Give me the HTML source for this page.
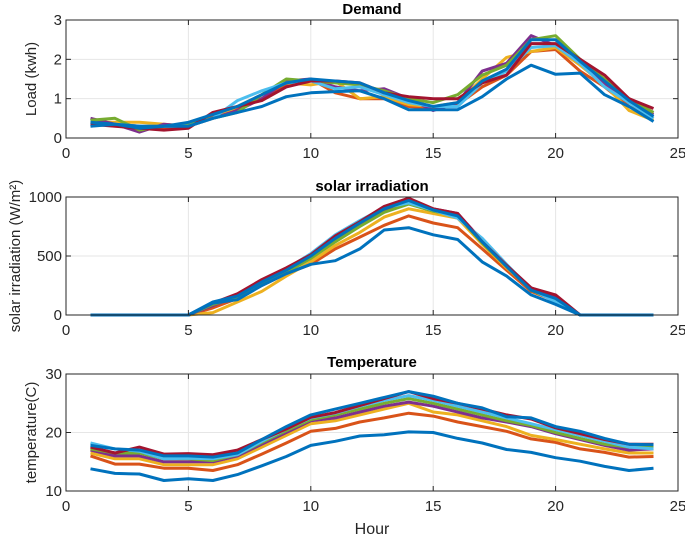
<!DOCTYPE html>
<html><head><meta charset="utf-8"><style>
body{margin:0;background:#fff;}
svg{display:block;font-family:"Liberation Sans",sans-serif;}
</style></head><body>
<svg id="c" width="685" height="536"></svg>
<script>
const hours=[1,2,3,4,5,6,7,8,9,10,11,12,13,14,15,16,17,18,19,20,21,22,23,24];
const xTicks=[0,5,10,15,20,25];
const colors=["#D95319","#EDB120","#7E2F8E","#77AC30","#4DBEEE","#A2142F","#0072BD"];
const demand=[
[.4,.35,.3,.25,.3,.55,.75,1.0,1.35,1.5,1.15,1.0,1.0,.8,.75,.85,1.3,1.6,2.2,2.25,1.7,1.3,.8,.5],
[.4,.4,.4,.35,.3,.5,.8,1.1,1.4,1.35,1.45,1.0,1.05,.85,.8,.9,1.5,2.05,2.2,2.3,1.85,1.35,.7,.45],
[.5,.35,.15,.35,.3,.5,.7,1.0,1.45,1.5,1.3,1.2,1.25,1.0,.7,.9,1.7,1.9,2.6,2.35,1.9,1.4,.9,.6],
[.45,.5,.2,.3,.35,.5,.65,1.1,1.5,1.45,1.4,1.35,1.2,1.0,.9,1.1,1.6,1.85,2.5,2.6,2.0,1.5,1.0,.65],
[.35,.35,.3,.3,.3,.5,.95,1.2,1.4,1.45,1.25,1.3,1.1,.9,.8,.8,1.4,1.7,2.3,2.35,1.9,1.3,.9,.5],
[.35,.3,.25,.2,.25,.65,.8,.95,1.3,1.45,1.45,1.4,1.15,1.05,1.0,1.0,1.4,1.6,2.4,2.4,2.0,1.6,1.0,.75],
[.3,.35,.25,.3,.3,.5,.65,.8,1.05,1.15,1.18,1.2,1.0,.72,.72,.72,1.05,1.5,1.85,1.62,1.65,1.1,.8,.42]];
const demandBlue2=[.4,.35,.3,.3,.4,.6,.8,1.1,1.4,1.5,1.45,1.4,1.15,.95,.8,.9,1.45,1.75,2.5,2.5,1.95,1.45,.95,.55];
const solar=[
[0,0,0,0,0,60,140,250,350,430,560,660,760,840,780,740,560,380,200,120,0,0,0,0],
[0,0,0,0,0,20,110,200,330,450,590,700,830,900,860,820,600,400,220,130,0,0,0,0],
[0,0,0,0,0,80,160,280,370,490,640,760,880,960,900,860,630,420,230,150,0,0,0,0],
[0,0,0,0,0,90,150,270,360,480,620,750,870,940,880,840,610,410,210,120,0,0,0,0],
[0,0,0,0,0,100,170,290,390,520,680,800,910,950,890,820,650,430,220,110,0,0,0,0],
[0,0,0,0,0,100,180,300,400,510,670,790,920,990,900,860,620,420,230,170,0,0,0,0],
[0,0,0,0,0,100,130,250,350,430,460,560,720,740,680,640,450,330,170,90,0,0,0,0]];
const solarBlue2=[0,0,0,0,0,110,160,280,380,500,650,780,900,970,890,840,620,410,210,140,0,0,0,0];
const temp=[
[16,14.6,14.6,13.9,13.9,13.5,14.5,16.3,18.2,20.2,20.7,21.8,22.5,23.3,22.8,21.8,21,20.2,18.9,18.3,17.2,16.6,15.8,15.9],
[16.5,15.5,15.5,14.5,14.5,14.5,15.5,17.5,19.5,21.5,22,23,24,25,23.5,23,22,21,19.5,18.8,18,17.2,16.5,16.5],
[17,16,16,15,15,15,16,18,20,22,22.5,23.5,24.5,25.2,24.5,23.5,22.5,21.8,21,19.8,18.8,17.8,17,17.2],
[17.2,16.5,16.5,15.5,15.5,15.2,16.2,18.3,20.3,22.2,23,24,25,25.8,25,24,23,22,21.2,20,19,18,17.5,17.5],
[18.2,17.2,16.8,15.5,15.6,15.5,16.2,18.5,20.6,22.5,23.3,24.5,25.5,26.3,25.5,24.5,23.5,22.5,21.5,20.5,19.5,18.5,17.5,17.2],
[17.5,16.5,17.5,16.3,16.4,16.2,17,18.8,20.6,22.6,23.4,24.6,25.8,27,25.8,25,24,23,22.3,20.8,19.8,18.8,18,18],
[13.8,13,12.9,11.8,12.1,11.8,12.8,14.3,15.9,17.8,18.5,19.4,19.6,20.1,20,19,18.2,17.1,16.6,15.7,15.1,14.2,13.5,13.9]];
const tempBlue2=[17.8,17.2,17,16,16,15.8,16.5,18.8,21,23,24,25,26,27,26.2,25,24.2,22.7,22.5,21,20.2,19,18,17.9];
const panels=[
 {title:"Demand",ylabel:"Load (kwh)",data:demand,extra:demandBlue2,ymin:0,ymax:3,yTicks:[0,1,2,3],top:20,bot:138,ty:14},
 {title:"solar irradiation",ylabel:"solar irradiation (W/m²)",data:solar,extra:solarBlue2,ymin:0,ymax:1000,yTicks:[0,500,1000],top:197,bot:315,ty:191},
 {title:"Temperature",ylabel:"temperature(C)",data:temp,extra:tempBlue2,ymin:10,ymax:30,yTicks:[10,20,30],top:374,bot:491,ty:367}];
const svg=document.getElementById('c');const NS="http://www.w3.org/2000/svg";
function mk(t,a,p){const e=document.createElementNS(NS,t);for(const k in a)e.setAttribute(k,a[k]);(p||svg).appendChild(e);return e;}
const L=66,R=678;
const xs=v=>L+(v-0)/25*(R-L);
panels.forEach((P,pi)=>{
 const g=mk('g',{});
 
 
 const ys=v=>P.bot-(v-P.ymin)/(P.ymax-P.ymin)*(P.bot-P.top);
 xTicks.forEach(t=>{if(t>0&&t<25){const l=mk('line',{x1:xs(t),x2:xs(t),y1:P.top,y2:P.bot,stroke:'#e6e6e6','stroke-width':1},g);}});
 P.yTicks.forEach(t=>{if(t>P.ymin&&t<P.ymax){const l=mk('line',{x1:L,x2:R,y1:ys(t),y2:ys(t),stroke:'#e6e6e6','stroke-width':1},g);}});
 const all=P.data.slice(0,6).concat([P.extra,P.data[6]]);
 const cols=colors.slice(0,6).concat(["#0072BD","#0072BD"]);
 all.forEach((s,si)=>{
  const d=s.map((v,i)=>(i?'L':'M')+xs(hours[i]).toFixed(1)+','+ys(v).toFixed(1)).join('');
  const p=mk('path',{d:d,fill:'none',stroke:cols[si],'stroke-width':3,'stroke-linejoin':'round'},g);
  
  
 });
 const box=mk('rect',{x:L,y:P.top,width:R-L,height:P.bot-P.top,fill:'none',stroke:'#262626','stroke-width':1},g);
 
 xTicks.forEach(t=>{mk('line',{x1:xs(t),x2:xs(t),y1:P.bot,y2:P.bot-5,stroke:'#262626'},g);mk('line',{x1:xs(t),x2:xs(t),y1:P.top,y2:P.top+5,stroke:'#262626'},g);
  const tx=mk('text',{x:xs(t),y:P.bot+20,'text-anchor':'middle','font-size':15,fill:'#262626'},g);tx.textContent=t;
  });
 P.yTicks.forEach(t=>{mk('line',{x1:L,x2:L+5,y1:ys(t),y2:ys(t),stroke:'#262626'},g);mk('line',{x1:R,x2:R-5,y1:ys(t),y2:ys(t),stroke:'#262626'},g);
  const tx=mk('text',{x:L-4,y:ys(t)+5,'text-anchor':'end','font-size':15,fill:'#262626'},g);tx.textContent=t;
  });
 const ti=mk('text',{x:(L+R)/2,y:P.ty,'text-anchor':'middle','font-size':15,'font-weight':'bold',fill:'#000'},g);ti.textContent=P.title;
 
 const cy=(P.top+P.bot)/2;
 const yl=mk('text',{x:0,y:0,transform:'translate('+(pi==1?20:36)+','+cy+') rotate(-90)','text-anchor':'middle','font-size':15,fill:'#262626'},g);yl.textContent=P.ylabel;
 
});
const xl=mk('text',{x:(L+R)/2,y:534,'text-anchor':'middle','font-size':16,fill:'#262626'});xl.textContent='Hour';


</script>
</body></html>
